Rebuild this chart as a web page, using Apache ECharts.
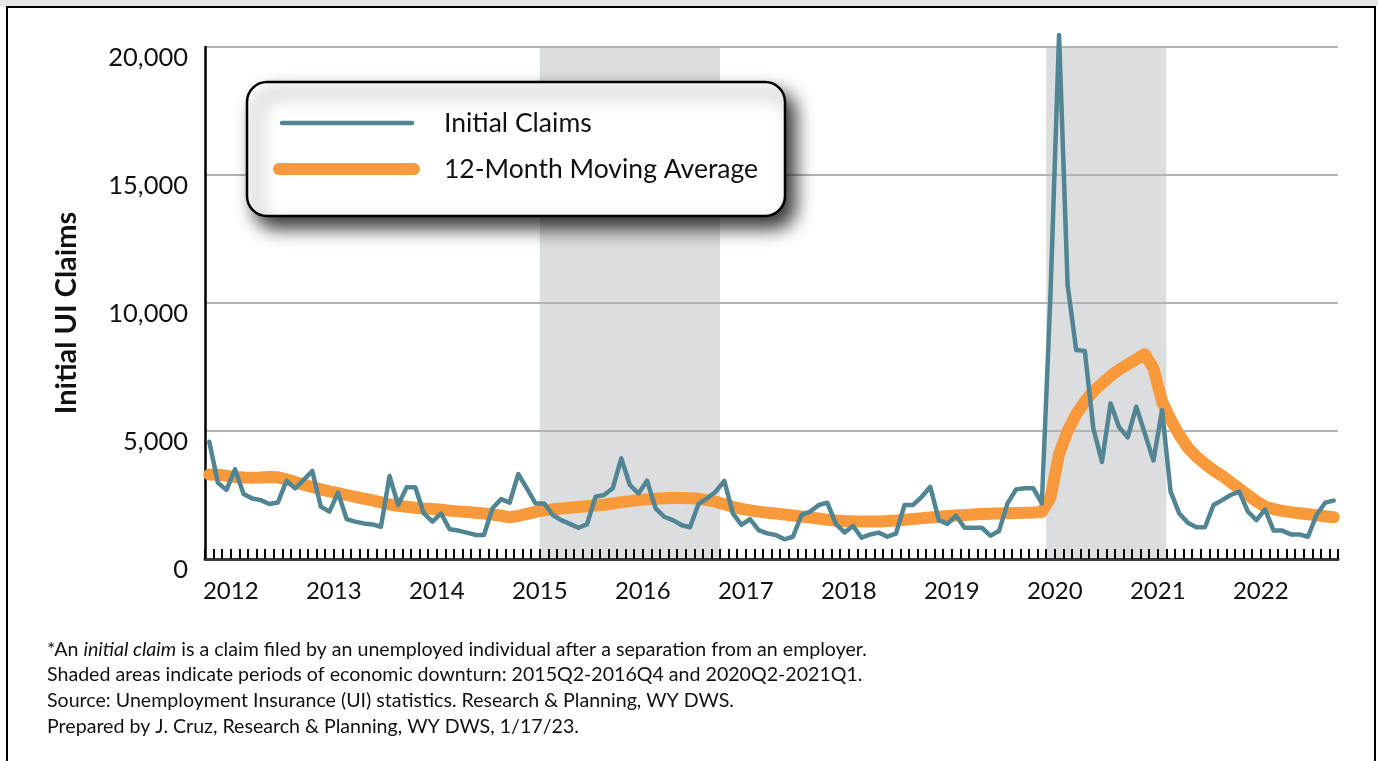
<!DOCTYPE html>
<html>
<head>
<meta charset="utf-8">
<script src="https://cdn.jsdelivr.net/npm/echarts@6/dist/echarts.min.js"></script>
<style>
  html, body { margin: 0; padding: 0; background: #ffffff; }
  #chart { width: 1378px; height: 761px; }
</style>
</head>
<body>
<div id="chart"></div>
<script>
// ---------------- DATA ----------------
const startYear = 2012;            // first month shown: January 2012
const yearLabels = ['2012','2013','2014','2015','2016','2017','2018','2019','2020','2021','2022'];

// Monthly initial UI claims (Jan 2012 - Dec 2022)
const initialClaims = [
  4580, 2980, 2700, 3500, 2540, 2360, 2300, 2150, 2210, 3060, 2760, 3090,
  3440, 2040, 1850, 2590, 1560, 1460, 1390, 1350, 1260, 3240, 2110, 2800,
  2800, 1780, 1460, 1780, 1160, 1110, 1030,  940,  940, 1980, 2340, 2200,
  3320, 2760, 2170, 2170, 1720, 1520, 1370, 1220, 1350, 2430, 2500, 2760,
  3930, 2890, 2560, 3060, 1980, 1650, 1520, 1330, 1240, 2150, 2370, 2630,
  3050, 1780, 1330, 1560, 1130, 1000,  940,  770,  870, 1720, 1850, 2110,
  2200, 1370, 1040, 1290,  830,  960, 1030,  870,  990, 2110, 2110, 2430,
  2820, 1520, 1370, 1690, 1220, 1220, 1220,  910, 1090, 2170, 2720, 2760,
  2760, 2170, 10300, 20470, 10700, 8160, 8130, 5100, 3790, 6080, 5150, 4750,
  5950, 4900, 3840, 5820, 2630, 1780, 1420, 1240, 1240, 2110, 2300, 2500,
  2630, 1850, 1520, 1940, 1110, 1110,  960,  960,  870, 1720, 2200, 2280
];

// 12-month moving average
const movingAverage = [
  3300, 3290, 3250, 3200, 3180, 3170, 3180, 3200, 3190, 3110, 3010, 2900,
  2810, 2720, 2640, 2570, 2500, 2430, 2360, 2290, 2210, 2130, 2080, 2040,
  2000, 1970, 1950, 1920, 1890, 1860, 1840, 1810, 1780, 1740, 1690, 1630,
  1680, 1760, 1840, 1900, 1940, 1970, 2000, 2030, 2060, 2090, 2120, 2170,
  2220, 2260, 2300, 2330, 2350, 2370, 2380, 2380, 2370, 2350, 2300, 2240,
  2140, 2040, 1960, 1900, 1850, 1810, 1780, 1740, 1700, 1660, 1620, 1580,
  1530, 1500, 1480, 1470, 1460, 1460, 1460, 1480, 1500, 1530, 1560, 1590,
  1620, 1650, 1680, 1700, 1720, 1740, 1760, 1770, 1780, 1790, 1800, 1810,
  1820, 1840, 2400, 4100, 5000, 5650, 6150, 6550, 6850, 7150, 7400, 7600,
  7800, 8000, 7450, 6150, 5450, 4850, 4350, 4000, 3720, 3460, 3250, 3000,
  2750, 2500, 2250, 2050, 1950, 1880, 1830, 1790, 1750, 1710, 1670, 1630
];

// Shaded periods (inclusive months, as drawn)
const downturns = [['2015-04', '2016-12'], ['2020-03', '2021-04']];

const footnotes = [
  '*An {i|initial claim} is a claim filed by an unemployed individual after a separation from an employer.',
  'Shaded areas indicate periods of economic downturn: 2015Q2-2016Q4 and 2020Q2-2021Q1.',
  'Source: Unemployment Insurance (UI) statistics. Research & Planning, WY DWS.',
  'Prepared by J. Cruz, Research & Planning, WY DWS, 1/17/23.'
];

// ---------------- BUILD ----------------
const months = initialClaims.map((_, i) => {
  const y = startYear + Math.floor(i / 12);
  const m = (i % 12) + 1;
  return y + '-' + (m < 10 ? '0' + m : m);
});
const monthIndex = s => months.indexOf(s);
// each month occupies slot [i, i+1] on the value x-axis; point drawn at slot centre
const claimsPts = initialClaims.map((v, i) => [i + 0.5, v]);
const avgPts = movingAverage.map((v, i) => [i + 0.5, v]);
const shadeData = downturns.map(([s, e]) => [{ xAxis: monthIndex(s) }, { xAxis: monthIndex(e) + 1 }]);

const FONT = 'Lato, "Open Sans", sans-serif';
const BLUE = '#528593';
const ORANGE = '#F8993B';
const NOTE_SIZE = 19.6;

const chart = echarts.init(document.getElementById('chart'), null, { renderer: 'canvas' });

const graphics = [
  // top strip and frame
  { type: 'rect', shape: { x: 0, y: 0, width: 1378, height: 6 }, style: { fill: '#e6e6e6' }, z: 0, silent: true },
  { type: 'rect', shape: { x: 7, y: 7, width: 1368, height: 800 }, style: { fill: 'none', stroke: '#000', lineWidth: 2 }, z: 0, silent: true },
  // legend box
  { type: 'rect', shape: { x: 247, y: 82, width: 538, height: 134, r: 20 },
    style: { fill: '#fff', stroke: '#000', lineWidth: 2.5, shadowBlur: 18, shadowOffsetX: 9, shadowOffsetY: 11, shadowColor: 'rgba(0,0,0,0.8)' },
    z: 10 },
  { type: 'line', shape: { x1: 282, y1: 123, x2: 412, y2: 123 }, style: { stroke: BLUE, lineWidth: 4.5, lineCap: 'round' }, z: 11 },
  { type: 'line', shape: { x1: 279, y1: 169, x2: 414, y2: 169 }, style: { stroke: ORANGE, lineWidth: 12, lineCap: 'round' }, z: 11 },
  { type: 'text', x: 444, y: 123, style: { text: 'Initial Claims', fill: '#111', font: '26.5px ' + FONT, verticalAlign: 'middle' }, z: 11 },
  { type: 'text', x: 444, y: 169, style: { text: '12-Month Moving Average', fill: '#111', font: '26.5px ' + FONT, verticalAlign: 'middle' }, z: 11 }
];
const noteY = [650, 675, 701, 727];
footnotes.forEach((t, k) => {
  graphics.push({
    type: 'text', x: 47, y: noteY[k],
    style: {
      text: t, fill: '#111', fontSize: NOTE_SIZE, fontFamily: FONT, verticalAlign: 'middle',
      rich: { i: { fontStyle: 'italic', fontSize: NOTE_SIZE, fontFamily: FONT, fill: '#111' } }
    },
    z: 5
  });
});

const option = {
  animation: false,
  backgroundColor: '#ffffff',
  grid: { left: 205, right: 40, top: 47, bottom: 202, containLabel: false },
  xAxis: {
    type: 'value', min: 0, max: months.length, interval: 1, z: 2,
    axisLine: { show: true, onZero: false, lineStyle: { color: '#3a3a3a', width: 3 } },
    axisTick: { show: true, inside: true, length: 10, lineStyle: { color: '#000', width: 2 } },
    splitLine: { show: false },
    axisLabel: {
      show: true, margin: 20, color: '#111', fontSize: 24, fontFamily: FONT,
      showMinLabel: true, showMaxLabel: true,
      formatter: v => {
        const k = (v - 3) / 12;
        return Number.isInteger(k) && k >= 0 && k < yearLabels.length ? yearLabels[k] : '';
      }
    }
  },
  yAxis: {
    type: 'value', min: 0, max: 20000, interval: 5000, z: 2,
    name: 'Initial UI Claims', nameLocation: 'middle', nameGap: 124, nameRotate: 90,
    nameTextStyle: { fontSize: 29, fontWeight: 'bold', fontFamily: FONT, color: '#111', padding: [0, 20, 0, 0] },
    axisLine: { show: true, lineStyle: { color: '#000', width: 2.5 } },
    axisTick: { show: false },
    splitLine: { show: true, lineStyle: { color: '#b3b3b3', width: 2 } },
    axisLabel: {
      margin: 17, color: '#111', fontSize: 25.5, fontFamily: FONT,
      verticalAlign: 'top', lineHeight: 21,
      formatter: v => v.toLocaleString('en-US')
    }
  },
  series: [
    {
      name: 'shade', type: 'line', data: [], z: 1, silent: true,
      markArea: { silent: true, z: 1, itemStyle: { color: '#dcdddf' }, label: { show: false }, data: shadeData }
    },
    {
      name: '12-Month Moving Average', type: 'line', data: avgPts, z: 3, clip: false,
      showSymbol: false, symbol: 'none',
      lineStyle: { color: ORANGE, width: 12, cap: 'round', join: 'round' }
    },
    {
      name: 'Initial Claims', type: 'line', data: claimsPts, z: 4, clip: false,
      showSymbol: false, symbol: 'none',
      lineStyle: { color: BLUE, width: 4.5, cap: 'round', join: 'round' }
    }
  ],
  graphic: graphics
};
chart.setOption(option);
</script>
</body>
</html>
